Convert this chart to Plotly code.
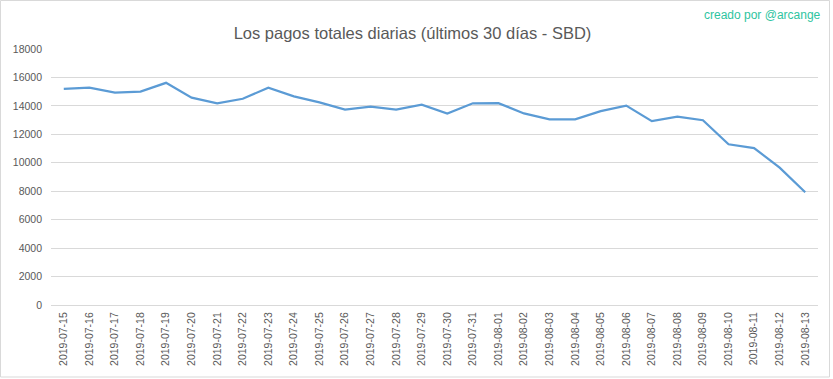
import plotly.graph_objects as go

dates = ["2019-07-15","2019-07-16","2019-07-17","2019-07-18","2019-07-19","2019-07-20",
         "2019-07-21","2019-07-22","2019-07-23","2019-07-24","2019-07-25","2019-07-26",
         "2019-07-27","2019-07-28","2019-07-29","2019-07-30","2019-07-31","2019-08-01",
         "2019-08-02","2019-08-03","2019-08-04","2019-08-05","2019-08-06","2019-08-07",
         "2019-08-08","2019-08-09","2019-08-10","2019-08-11","2019-08-12","2019-08-13"]
payouts = [15200, 15280, 14930, 15000, 15620, 14580,
           14170, 14500, 15280, 14670, 14250, 13740,
           13950, 13740, 14090, 13460, 14180, 14190,
           13470, 13050, 13050, 13630, 14020, 12930,
           13250, 12990, 11300, 11030, 9660, 7930]
y_ticks = [0, 2000, 4000, 6000, 8000, 10000, 12000, 14000, 16000, 18000]

title_text = "Los pagos totales diarias (últimos 30 días - SBD)"
credit_text = "creado por @arcange"

W, H = 833, 379
ML, MR, MT, MB = 51, 15, 49, 74
PW, PH = W - ML - MR, H - MT - MB

def px_x(p):
    return (p - ML) / PW

def px_y(p):
    return (H - MB - p) / PH

fig = go.Figure()
fig.add_trace(go.Scatter(
    x=dates, y=payouts, mode="lines",
    line=dict(color="#5b9bd5", width=2.25),
    hoverinfo="x+y", showlegend=False,
))

fig.update_layout(
    width=W, height=H,
    margin=dict(l=ML, r=MR, t=MT, b=MB),
    paper_bgcolor="white", plot_bgcolor="white",
    title=dict(text=title_text, x=px_x(412.5), xanchor="center", xref="paper",
               y=1 - 33/H, yref="container", yanchor="middle",
               font=dict(family="Liberation Sans", size=16.5, color="#595959")),
    font=dict(family="Liberation Sans", color="#595959"),
    xaxis=dict(type="category", range=[-0.5, 29.5], tickangle=-90,
               tickfont=dict(size=10.5, color="#595959"),
               showgrid=False, showline=True, linecolor="#d9d9d9", linewidth=1,
               ticks="", ticklabelstandoff=2, automargin=False),
    yaxis=dict(range=[0, 18000], tickvals=y_ticks, ticktext=[str(v) for v in y_ticks],
               showgrid=True, gridcolor="#d9d9d9", gridwidth=1, zeroline=False,
               tickfont=dict(size=10.5, color="#595959"), ticks="",
               ticklabelstandoff=8, showline=False, automargin=False),
    shapes=[dict(type="rect", xref="paper", yref="paper",
                 x0=px_x(0.5), x1=px_x(829.5), y0=px_y(377), y1=px_y(0.5),
                 line=dict(color="#d9d9d9", width=1), layer="below")],
    annotations=[dict(text=credit_text, xref="paper", yref="paper",
                      x=px_x(823), xanchor="right", y=px_y(14.5), yanchor="middle",
                      showarrow=False,
                      font=dict(family="Liberation Sans", size=12, color="#2ec4a0"))],
)
fig.write_html("out.html", config={"displayModeBar": False},
               post_script="document.body.style.margin='0';document.body.style.padding='0';")
